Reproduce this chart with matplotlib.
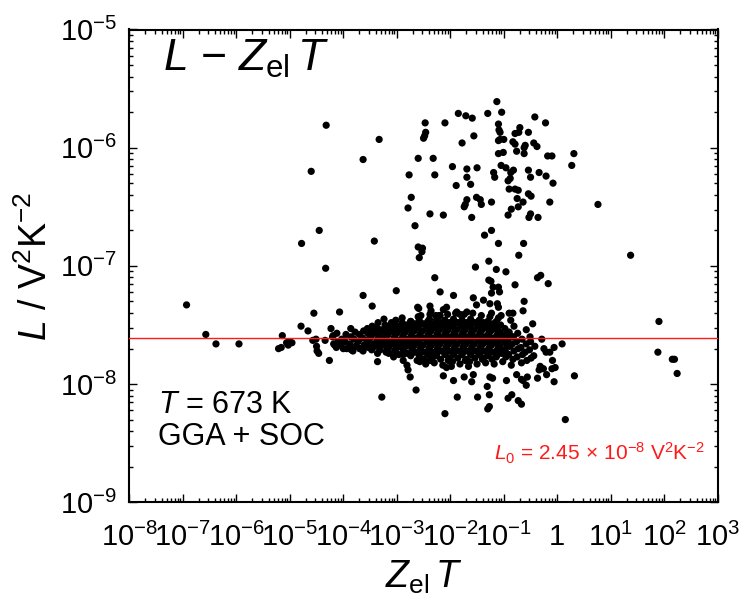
import numpy as np
import matplotlib
matplotlib.use("Agg")
import matplotlib.pyplot as plt
from matplotlib.ticker import FixedLocator, LogLocator, NullFormatter

plt.rcParams["font.family"] = ["Liberation Sans", "DejaVu Sans"]
plt.rcParams["mathtext.fontset"] = "custom"
plt.rcParams["mathtext.rm"] = "Liberation Sans"
plt.rcParams["mathtext.it"] = "Liberation Sans:italic"
plt.rcParams["mathtext.bf"] = "Liberation Sans:bold"
plt.rcParams["mathtext.sf"] = "Liberation Sans"

# ---- data: log10(Z_el T) and log10(L / V^2 K^-2) ----
# materials with large Lorenz numbers
upper_zt_exp = [
    -4.32, -3.33, -3.63, -4.60, -2.60, -2.77, -2.73, -2.79, -2.66, -4.45, -4.78, -3.42, -2.60, -2.58, -4.33,
    -1.13, -1.85, -1.71, -1.59, -1.30, -1.04, -0.42, -0.22, -2.47, -2.10, -1.10, -1.09, -1.07, -0.70, -0.79,
    -0.72, -0.54, -2.46, -2.48, -2.50, -1.56, -1.78, -1.10, -1.07, -1.00, -0.83, -0.79, -0.60, -0.62, -0.44,
    -0.38, -1.10, -1.01, -0.76, -0.62, -0.18, -0.10, 0.31,
    -2.32, -1.96, -1.69, -1.50, -1.05, -0.96, -0.82, -0.87, -0.54, -0.50, -0.34, -0.21, 0.27, -2.29, -1.19,
    -1.17, -1.69, -0.88, -0.92, -0.08, -1.89, -1.62, -0.90, -0.79, -0.73, -0.54, -0.49, -0.75, -1.69, -1.72,
    -1.74, -1.51, -1.44, -1.42, -1.23, -0.64, -0.14, 0.76,
    -2.38, -2.13, -0.86, -0.92, -0.73, -0.50, -0.53, -0.36, -1.60, -1.23, -1.36, -1.10, -0.63, -2.52, -2.53,
    -0.72, -1.28, -1.53, -1.14, -0.96, -2.29, -1.28, -0.37, -0.31, 1.37,
]
upper_l_exp = [
    -5.81, -5.93, -6.10, -6.20, -6.09, -6.23, -6.42, -6.51, -6.66, -6.70, -6.81, -6.79, -6.84, -6.93, -7.02,
    -5.61, -5.71, -5.73, -5.75, -5.71, -5.70, -5.74, -5.79, -5.79, -5.79, -5.80, -5.85, -5.87, -5.83, -5.88,
    -5.87, -5.87, -5.87, -5.90, -5.92, -5.90, -5.96, -5.94, -5.93, -5.93, -5.95, -5.97, -5.98, -6.00, -5.96,
    -5.99, -6.05, -6.04, -6.03, -6.05, -6.07, -6.07, -6.05,
    -6.09, -6.16, -6.18, -6.17, -6.15, -6.17, -6.19, -6.21, -6.19, -6.25, -6.21, -6.24, -6.15, -6.23, -6.21,
    -6.25, -6.25, -6.26, -6.28, -6.30, -6.32, -6.31, -6.35, -6.35, -6.36, -6.39, -6.41, -6.43, -6.44, -6.48,
    -6.50, -6.42, -6.44, -6.48, -6.46, -6.46, -6.46, -6.48,
    -6.56, -6.57, -6.52, -6.57, -6.50, -6.56, -6.59, -6.59, -6.59, -6.70, -6.74, -6.81, -6.81, -6.85, -6.88,
    -6.91, -6.96, -7.01, -7.03, -7.05, -7.10, -7.12, -7.10, -7.08, -6.91,
]

# materials scattered around L0
band_zt_exp = [
    1.90, 0.09, 1.88, 2.15, 2.19, 2.24, 0.32,
    -6.93, -6.57, -6.38, -5.95, -5.14, -5.21, -5.16, -5.06, -5.01, -4.96, -5.03, -4.79, -4.66, -4.55, -4.57,
    -4.51, -4.50, -4.49, -4.46,
    -3.63, -3.01, -4.07, -3.46, -2.19, -2.61, -2.59, -2.38, -2.36, -2.13, -2.07, -2.27, -2.19, -2.39, -2.60,
    -2.74, -2.90, -3.10, -3.02, -3.24, -3.35, -3.46, -3.55, -3.86, -4.23,
    -4.26, -3.36, -3.15, -2.88, -2.81, -2.79, -2.75, -2.64, -3.28, -2.10, -2.13, -2.07, -2.57, -2.38,
    -1.24, -1.20, -1.10, -1.08, -1.23, -0.79, -0.17, -1.94, -1.57, -1.51, -1.38, -1.26, -1.23, -1.12, -1.10,
    -0.62, -0.64, -0.90, -0.83, -1.05, -0.87, -0.46, -0.81, -0.58, -0.88, -0.51, -0.29,
    -0.06, -0.14, -0.25, -0.21, -0.09, -0.04, -0.10, -0.32, -0.26, -0.34, -0.20, -0.37, -0.06, -0.58, -0.56,
    -0.64, -0.67, -0.76, -0.95, -1.26, -1.21, -1.31, -1.27, -1.49, -1.87, -1.60, -1.74, -1.57, -1.94, -0.92,
    -0.85, -0.73, -0.67, -1.27, -1.30, 0.15,
    -4.34, -4.19, -4.16, -4.00, -3.82, -3.69, -1.88, -1.69, -1.82,
]
band_l_exp = [
    -7.47, -7.66, -7.73, -7.79, -7.79, -7.91, -7.93,
    -7.33, -7.58, -7.66, -7.66, -7.59, -7.70, -7.69, -7.65, -7.64, -7.65, -7.67, -7.51, -7.55, -7.40, -7.63,
    -7.62, -7.68, -7.72, -7.74,
    -7.25, -7.21, -7.39, -7.34, -7.22, -7.35, -7.36, -7.34, -7.38, -7.37, -7.35, -7.42, -7.42, -7.45, -7.43,
    -7.47, -7.44, -7.48, -7.46, -7.45, -7.48, -7.51, -7.53, -7.53, -7.53,
    -7.80, -7.81, -7.74, -7.80, -7.84, -7.88, -7.94, -8.05, -8.11, -8.25, -7.93, -7.86, -7.81, -7.80,
    -7.13, -7.18, -7.18, -7.22, -7.23, -7.16, -7.15, -7.25, -7.27, -7.33, -7.29, -7.32, -7.40, -7.32, -7.35,
    -7.30, -7.38, -7.40, -7.40, -7.42, -7.46, -7.49, -7.51, -7.54, -7.59, -7.60, -7.62,
    -7.69, -7.73, -7.70, -7.73, -7.80, -7.86, -7.87, -7.85, -7.87, -7.88, -7.92, -7.95, -7.98, -8.01, -7.94,
    -7.97, -7.96, -7.92, -7.97, -7.94, -7.95, -8.02, -8.09, -8.11, -8.11, -7.98, -7.94, -7.92, -7.97, -8.12,
    -8.09, -8.14, -8.17, -8.19, -8.21, -8.30,
    -7.63, -7.59, -7.67, -7.70, -7.72, -7.70, -7.39, -7.39, -7.41,
]

# densely populated core just below L0
core_zt_exp = [
    -4.20, -4.18, -4.12, -4.10, -4.13, -4.03, -4.05, -3.95, -3.97, -3.94, -3.86, -3.88, -3.85,
    -3.78, -3.80, -3.77, -3.70, -3.72, -3.69, -3.62, -3.64, -3.61, -3.63, -3.54, -3.56, -3.53,
    -3.46, -3.48, -3.45, -3.47, -3.38, -3.40, -3.37, -3.39, -3.36, -3.30, -3.32, -3.29, -3.31,
    -3.22, -3.24, -3.21, -3.23, -3.20, -3.14, -3.16, -3.13, -3.15,
    -3.06, -3.08, -3.05, -3.07, -3.04, -3.06, -2.98, -3.00, -2.97, -2.99, -2.96,
    -2.90, -2.92, -2.89, -2.91, -2.88, -2.82, -2.84, -2.81, -2.83, -2.80,
    -2.74, -2.76, -2.73, -2.75, -2.72, -2.74, -2.66, -2.68, -2.65, -2.67, -2.64,
    -2.58, -2.60, -2.57, -2.59, -2.56, -2.58, -2.50, -2.52, -2.49, -2.51, -2.48, -2.50,
    -2.42, -2.44, -2.41, -2.43, -2.40, -2.42, -2.34, -2.36, -2.33, -2.35, -2.32, -2.34,
    -2.26, -2.28, -2.25, -2.27, -2.24, -2.26, -2.18, -2.20, -2.17, -2.19, -2.16, -2.18,
    -2.10, -2.12, -2.09, -2.11, -2.08, -2.10, -2.02, -2.04, -2.01, -2.03, -2.00, -2.02,
    -1.94, -1.96, -1.93, -1.95, -1.92, -1.94, -1.96, -1.86, -1.88, -1.85, -1.87, -1.84, -1.86,
    -1.78, -1.80, -1.77, -1.79, -1.76, -1.78, -1.70, -1.72, -1.69, -1.71, -1.68, -1.70,
    -1.62, -1.64, -1.61, -1.63, -1.60, -1.62, -1.64, -1.54, -1.56, -1.53, -1.55, -1.52, -1.54,
    -1.46, -1.48, -1.45, -1.47, -1.44, -1.46, -1.38, -1.40, -1.37, -1.39, -1.36, -1.38,
    -1.30, -1.32, -1.29, -1.31, -1.28, -1.30, -1.22, -1.24, -1.21, -1.23, -1.20, -1.22,
    -1.14, -1.16, -1.13, -1.15, -1.12, -1.14, -1.06, -1.08, -1.05, -1.07, -1.04,
    -0.98, -1.00, -0.97, -0.99, -0.96, -0.90, -0.92, -0.89, -0.91, -0.82, -0.84, -0.81, -0.83,
    -0.74, -0.76, -0.73, -0.75, -0.66, -0.68, -0.65, -0.67, -0.58, -0.60, -0.57, -0.50, -0.52, -0.49,
    -0.42, -0.44,
    -2.55, -2.38, -2.21, -2.05, -1.90, -1.74, -1.58, -1.42, -1.26, -1.10,
    -2.62, -2.46, -2.30, -2.14, -1.98, -1.82, -1.66, -1.50, -1.34, -1.18, -1.02, -0.86,
]
core_l_exp = [
    -7.60, -7.66, -7.57, -7.64, -7.69, -7.62, -7.67, -7.58, -7.64, -7.70, -7.60, -7.66, -7.71,
    -7.56, -7.62, -7.68, -7.58, -7.64, -7.70, -7.55, -7.61, -7.67, -7.72, -7.57, -7.63, -7.69,
    -7.54, -7.60, -7.66, -7.71, -7.52, -7.57, -7.63, -7.68, -7.74, -7.54, -7.60, -7.65, -7.71,
    -7.50, -7.56, -7.62, -7.67, -7.73, -7.52, -7.58, -7.64, -7.69,
    -7.49, -7.55, -7.61, -7.66, -7.72, -7.77, -7.51, -7.57, -7.63, -7.69, -7.75,
    -7.48, -7.54, -7.60, -7.66, -7.71, -7.50, -7.56, -7.62, -7.68, -7.74,
    -7.47, -7.53, -7.59, -7.65, -7.70, -7.76, -7.49, -7.55, -7.61, -7.67, -7.73,
    -7.46, -7.52, -7.58, -7.64, -7.70, -7.76, -7.49, -7.55, -7.61, -7.67, -7.73, -7.79,
    -7.47, -7.52, -7.58, -7.64, -7.70, -7.75, -7.49, -7.55, -7.61, -7.67, -7.73, -7.78,
    -7.46, -7.52, -7.58, -7.64, -7.70, -7.76, -7.48, -7.54, -7.60, -7.66, -7.72, -7.79,
    -7.46, -7.51, -7.57, -7.63, -7.69, -7.75, -7.48, -7.54, -7.60, -7.66, -7.72, -7.78,
    -7.45, -7.51, -7.57, -7.63, -7.69, -7.75, -7.81, -7.48, -7.54, -7.60, -7.66, -7.72, -7.78,
    -7.46, -7.51, -7.57, -7.63, -7.69, -7.75, -7.48, -7.54, -7.60, -7.66, -7.72, -7.79,
    -7.45, -7.51, -7.57, -7.63, -7.69, -7.75, -7.81, -7.48, -7.54, -7.60, -7.66, -7.72, -7.78,
    -7.46, -7.51, -7.57, -7.63, -7.69, -7.75, -7.48, -7.54, -7.60, -7.66, -7.72, -7.78,
    -7.47, -7.52, -7.58, -7.64, -7.70, -7.76, -7.49, -7.55, -7.61, -7.67, -7.73, -7.79,
    -7.47, -7.53, -7.59, -7.65, -7.71, -7.77, -7.50, -7.56, -7.62, -7.68, -7.74,
    -7.53, -7.59, -7.65, -7.71, -7.77, -7.56, -7.62, -7.68, -7.75, -7.60, -7.66, -7.72, -7.79,
    -7.57, -7.64, -7.70, -7.77, -7.62, -7.69, -7.75, -7.82, -7.66, -7.73, -7.80, -7.64, -7.71, -7.78,
    -7.68, -7.76,
    -7.42, -7.41, -7.42, -7.41, -7.40, -7.41, -7.40, -7.42, -7.43, -7.44,
    -7.80, -7.83, -7.82, -7.84, -7.85, -7.83, -7.85, -7.83, -7.82, -7.83, -7.81, -7.84,
]

# further materials inside the core
inner_zt_exp = [
    -3.50, -3.51,
    -3.34, -3.35, -3.33,
    -3.18, -3.19, -3.17, -3.18,
    -3.02, -3.03, -3.01, -3.02,
    -2.86, -2.87, -2.85, -2.86, -2.88,
    -2.70, -2.71, -2.69, -2.70, -2.72,
    -2.54, -2.55, -2.53, -2.54, -2.56,
    -2.38, -2.39, -2.37, -2.38, -2.40, -2.36,
    -2.22, -2.23, -2.21, -2.22, -2.24,
    -2.06, -2.07, -2.05, -2.06, -2.08, -2.04,
    -1.90, -1.91, -1.89, -1.90, -1.92,
    -1.74, -1.75, -1.73, -1.74, -1.76, -1.72,
    -1.58, -1.59, -1.57, -1.58, -1.60,
    -1.42, -1.43, -1.41, -1.42, -1.44, -1.40,
    -1.26, -1.27, -1.25, -1.26, -1.28,
    -1.10, -1.11, -1.09, -1.10, -1.12,
    -0.94, -0.95, -0.93, -0.94,
]
inner_l_exp = [
    -7.59, -7.65,
    -7.55, -7.62, -7.68,
    -7.53, -7.59, -7.65, -7.71,
    -7.52, -7.58, -7.64, -7.70,
    -7.51, -7.57, -7.63, -7.69, -7.75,
    -7.50, -7.56, -7.62, -7.68, -7.74,
    -7.49, -7.55, -7.61, -7.67, -7.73,
    -7.50, -7.56, -7.62, -7.68, -7.74, -7.80,
    -7.49, -7.55, -7.61, -7.67, -7.73,
    -7.49, -7.55, -7.61, -7.67, -7.73, -7.80,
    -7.48, -7.54, -7.60, -7.66, -7.72,
    -7.49, -7.55, -7.61, -7.67, -7.73, -7.80,
    -7.48, -7.54, -7.60, -7.66, -7.72,
    -7.49, -7.55, -7.61, -7.67, -7.73, -7.79,
    -7.50, -7.56, -7.62, -7.68, -7.74,
    -7.51, -7.57, -7.63, -7.69, -7.75,
    -7.56, -7.62, -7.68, -7.74,
]

L0 = 2.45e-8  # Sommerfeld value of the Lorenz number

x_ticks = [1e-8, 1e-7, 1e-6, 1e-5, 1e-4, 1e-3, 1e-2, 1e-1, 1, 1e1, 1e2, 1e3]
x_tick_labels = [r"$10^{-8}$", r"$10^{-7}$", r"$10^{-6}$", r"$10^{-5}$", r"$10^{-4}$",
                 r"$10^{-3}$", r"$10^{-2}$", r"$10^{-1}$", "1", r"$10^{1}$", r"$10^{2}$",
                 r"$10^{3}$"]
y_ticks = [1e-9, 1e-8, 1e-7, 1e-6, 1e-5]
y_tick_labels = [r"$10^{-9}$", r"$10^{-8}$", r"$10^{-7}$", r"$10^{-6}$", r"$10^{-5}$"]

zt = 10.0 ** np.array(upper_zt_exp + band_zt_exp + core_zt_exp + inner_zt_exp)
lor = 10.0 ** np.array(upper_l_exp + band_l_exp + core_l_exp + inner_l_exp)

W, H = 742, 600
fig = plt.figure(figsize=(W / 100, H / 100), dpi=100)
ax = fig.add_axes([129.3 / W, 1 - 502.3 / H, (717.8 - 129.3) / W, (502.3 - 29.5) / H])

ax.set_xscale("log")
ax.set_yscale("log")
ax.set_xlim(1e-8, 1e3)
ax.set_ylim(1e-9, 1e-5)

ax.scatter(zt, lor, s=27, c="black", edgecolors="none", zorder=2)
ax.axhline(L0, color="#ff1a1a", lw=1.0, zorder=3)

ax.xaxis.set_major_locator(FixedLocator(x_ticks))
ax.set_xticklabels(x_tick_labels)
ax.yaxis.set_major_locator(FixedLocator(y_ticks))
ax.set_yticklabels(y_tick_labels)
for axis in (ax.xaxis, ax.yaxis):
    axis.set_minor_locator(LogLocator(base=10, subs=np.arange(2, 10), numticks=100))
    axis.set_minor_formatter(NullFormatter())

ax.tick_params(which="both", direction="in", top=True, right=True, width=1.0)
ax.tick_params(which="major", length=6)
ax.tick_params(which="minor", length=3)
ax.tick_params(axis="x", labelsize=21, pad=15)
ax.tick_params(axis="y", labelsize=21, pad=9)
for sp in ax.spines.values():
    sp.set_linewidth(1.5)

fig.text(36 / W, 1 - 266 / H, r"$L$ / V$^2$K$^{-2}$", rotation=90,
         ha="center", va="center", fontsize=27)
fig.text(424 / W, 1 - 588 / H, r"$Z_{\mathrm{el}}\,T$", ha="center", va="baseline",
         fontsize=27)

fig.text(163 / W, 1 - 70.7 / H, r"$L$ $-$ $Z_{\mathrm{el}}\,T$", ha="left", va="baseline",
         fontsize=32)
fig.text(158 / W, 1 - 413.3 / H, r"$T$ = 673 K", ha="left", va="baseline", fontsize=22)
fig.text(158 / W, 1 - 445 / H, "GGA + SOC", ha="left", va="baseline", fontsize=22)
fig.text(705 / W, 1 - 461 / H,
         r"$L_0$ = 2.45$\,\times\,$10$^{-8}$ V$^2$K$^{-2}$",
         ha="right", va="baseline", fontsize=15, color="#ff1a1a")

fig.savefig("out.png", dpi=100)
